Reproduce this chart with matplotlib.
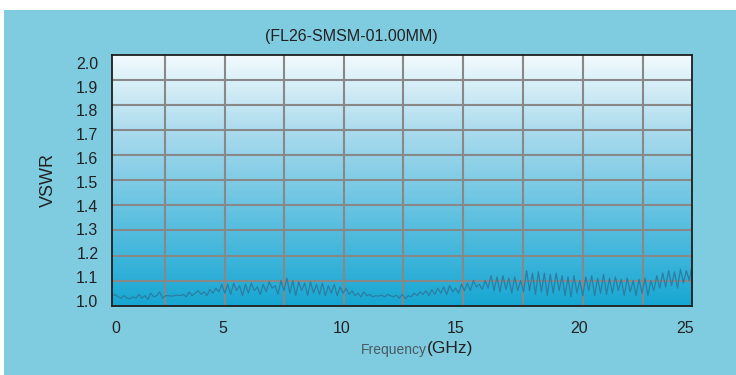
import numpy as np
import matplotlib
matplotlib.use("Agg")
from matplotlib import pyplot as plt
from matplotlib.colors import LinearSegmentedColormap
from matplotlib.patches import Rectangle

# chart text
title = "(FL26-SMSM-01.00MM)"
y_label = "VSWR"
x_label_a = "Frequency"
x_label_b = "(GHz)"

# tick labels
x_tick_vals = [0, 5, 10, 15, 20, 25]
y_tick_vals = [1.0, 1.1, 1.2, 1.3, 1.4, 1.5, 1.6, 1.7, 1.8, 1.9, 2.0]

vswr = [
    1.04, 1.045, 1.035, 1.03, 1.04, 1.03, 1.028, 1.035, 1.03, 1.045,
    1.03, 1.04, 1.025, 1.05, 1.035, 1.04, 1.055, 1.03, 1.04,
    1.04, 1.038, 1.04, 1.042, 1.04, 1.045, 1.035, 1.055, 1.04, 1.05,
    1.06, 1.045, 1.055, 1.04, 1.065, 1.05, 1.07, 1.055, 1.085,
    1.05, 1.085, 1.045, 1.09, 1.06, 1.08, 1.04, 1.085, 1.05, 1.09,
    1.06, 1.075, 1.045, 1.085, 1.055, 1.095, 1.07, 1.08, 1.045, 1.1, 1.06,
    1.11, 1.05, 1.1, 1.04, 1.095, 1.06, 1.09, 1.04, 1.095, 1.05,
    1.085, 1.045, 1.09, 1.04, 1.08, 1.05, 1.085, 1.04, 1.075, 1.05, 1.07,
    1.045, 1.06, 1.04, 1.05, 1.035, 1.055, 1.04, 1.045, 1.035, 1.04,
    1.038, 1.042, 1.035, 1.045, 1.04, 1.035, 1.042, 1.03, 1.045, 1.028, 1.04,
    1.035, 1.05, 1.04, 1.055, 1.045, 1.06, 1.04, 1.065, 1.045, 1.07,
    1.05, 1.075, 1.045, 1.08, 1.055, 1.07, 1.05, 1.085, 1.06, 1.09,
    1.06, 1.1, 1.075, 1.085, 1.065, 1.1, 1.07, 1.12, 1.06, 1.115,
    1.055, 1.12, 1.065, 1.11, 1.05, 1.115, 1.06, 1.1, 1.055,
    1.14, 1.06, 1.13, 1.045, 1.135, 1.055, 1.13, 1.04, 1.125, 1.05,
    1.13, 1.06, 1.12, 1.04, 1.115, 1.035, 1.12, 1.05, 1.1, 1.04, 1.115,
    1.06, 1.12, 1.04, 1.11, 1.05, 1.125, 1.045, 1.11, 1.05, 1.115,
    1.06, 1.105, 1.04, 1.11, 1.055, 1.1, 1.04, 1.105, 1.05, 1.11,
    1.04, 1.1, 1.06, 1.12, 1.07, 1.13, 1.075, 1.14, 1.08, 1.135,
    1.07, 1.145, 1.09, 1.14, 1.1, 1.165,
]
f_start, f_stop = -0.16, 25.32
freq = np.linspace(f_start, f_stop, len(vswr))

plt.rcParams['font.family'] = ['Liberation Sans', 'DejaVu Sans']

fig = plt.figure(figsize=(7.36, 3.75), dpi=100)
fig.patch.set_facecolor('white')
# light blue panel below the thin white strip
fig.patches.append(Rectangle((4 / 736, 0), 1, 1 - 10 / 375,
                             transform=fig.transFigure, facecolor='#7fcce0',
                             edgecolor='none', zorder=-10))

ax = fig.add_axes([112.3 / 736, 69.3 / 375, 580 / 736, 250.7 / 375])
xmin, xmax = f_start, f_stop
ymin, ymax = 1.0, 2.0

# vertical gradient background
cmap = LinearSegmentedColormap.from_list(
    'bg', ['#16a7d3', '#5bbfdf', '#a4d8ec', '#f2fafd'])
grad = np.linspace(0, 1, 256).reshape(-1, 1)
ax.imshow(grad, extent=[xmin, xmax, ymin, ymax], origin='lower',
          aspect='auto', cmap=cmap, zorder=0, interpolation='bicubic')

ax.plot(freq, vswr, color='#2b7ea2', linewidth=0.9, zorder=3)

ax.set_xlim(xmin, xmax)
ax.set_ylim(ymin, ymax)

# grid lines (not tied to the labels in the original)
x_grid_frac = [0.0909, 0.1938, 0.2966, 0.4, 0.5017, 0.6052, 0.7086, 0.8116, 0.915]
ax.set_xticks([xmin + f * (xmax - xmin) for f in x_grid_frac], minor=True)
ax.set_yticks(y_tick_vals[1:-1], minor=True)
ax.grid(which='minor', color='#888888', linewidth=1.5, zorder=1)
ax.grid(which='major', visible=False)

# tick labels sit slightly off the grid in the original
x_lab_frac = [0.0064, 0.19, 0.3955, 0.5926, 0.8047, 0.9874]
ax.set_xticks([xmin + f * (xmax - xmin) for f in x_lab_frac],
              [str(v) for v in x_tick_vals])
ax.set_yticks([1.02 + (v - 1.0) * 0.949 for v in y_tick_vals],
              ['%.1f' % v for v in y_tick_vals])
ax.tick_params(which='both', length=0)
ax.tick_params(axis='x', pad=11, labelsize=11.5, labelcolor='#222222')
ax.tick_params(axis='y', pad=10, labelsize=11.5, labelcolor='#222222')

for s in ax.spines.values():
    s.set_color('#1e1e1e')
    s.set_linewidth(1.3)
    s.set_zorder(4)

fig.text(351 / 736, 1 - 36 / 375, title, ha='center', va='center',
         fontsize=11.5, color='#222222')
fig.text(48 / 736, 1 - 180 / 375, y_label, ha='center', va='center',
         rotation=90, fontsize=13, color='#222222')
fig.text(427 / 736, 1 - 350 / 375, x_label_a, ha='right', va='center',
         fontsize=10, color='#4a5a62')
fig.text(427 / 736, 1 - 349 / 375, x_label_b, ha='left', va='center',
         fontsize=12.5, color='#222222')

fig.savefig('out.png', dpi=100, facecolor=fig.get_facecolor())
